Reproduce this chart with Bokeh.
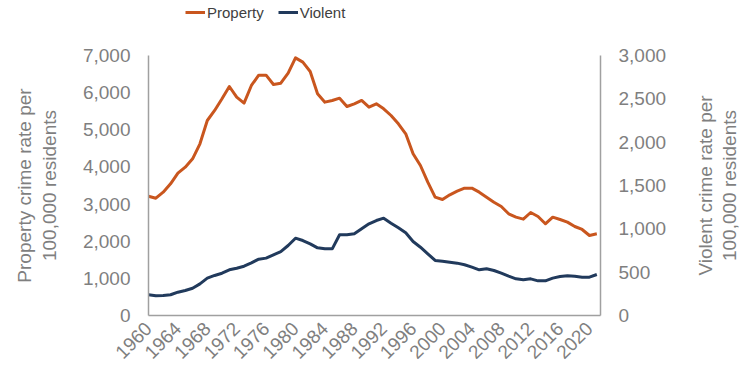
from bokeh.plotting import figure
from bokeh.models import (Range1d, LinearAxis, FixedTicker, NumeralTickFormatter,
                          Legend, LegendItem, Label)
from bokeh.layouts import column, row
from bokeh.embed import file_html
from bokeh.resources import INLINE
import math

years = list(range(1960, 2022))

property_rate = [3212, 3158, 3320, 3545, 3832, 3993, 4218, 4622, 5250, 5520,
                 5834, 6166, 5878, 5717, 6193, 6470, 6470, 6220, 6255, 6524,
                 6937, 6821, 6570, 5969, 5744, 5789, 5851, 5627, 5699, 5789,
                 5609, 5699, 5565, 5385, 5161, 4892, 4354, 4039, 3590, 3186,
                 3123, 3250, 3347, 3428, 3428, 3320, 3186, 3051, 2935, 2738,
                 2648, 2594, 2773, 2666, 2469, 2648, 2585, 2513, 2396, 2316,
                 2154, 2200]

violent_rate = [239, 227, 231, 239, 269, 288, 315, 365, 431, 462,
                488, 527, 546, 569, 608, 650, 662, 700, 738, 808,
                892, 865, 827, 781, 769, 769, 931, 931, 942, 1000,
                1058, 1096, 1123, 1065, 1012, 954, 854, 788, 712, 635,
                627, 615, 604, 585, 558, 527, 539, 519, 488, 454,
                423, 412, 423, 400, 400, 431, 450, 458, 454, 442,
                442, 473]

series_names = ["Property", "Violent"]
left_ticks = [0, 1000, 2000, 3000, 4000, 5000, 6000, 7000]
right_ticks = [0, 500, 1000, 1500, 2000, 2500, 3000]
x_ticks = list(range(1960, 2021, 4))
left_title = "Property crime rate per\n100,000 residents"
right_title_lines = ["Violent crime rate per", "100,000 residents"]

PROP_COLOR = "#C9561E"
VIOL_COLOR = "#213A5C"
AXIS_COLOR = "#A0A0A0"
TEXT_COLOR = "#7F7F7F"
FONT = "Liberation Sans"


def blank(fig):
    fig.outline_line_color = None
    fig.background_fill_color = "white"
    fig.border_fill_color = "white"
    fig.min_border = 0
    fig.xgrid.visible = False
    fig.ygrid.visible = False


# ---------------- legend strip (top) ----------------
leg_fig = figure(width=748, height=30, output_backend="svg", toolbar_location=None,
                 x_axis_type=None, y_axis_type=None,
                 x_range=Range1d(0, 1), y_range=Range1d(0, 1))
blank(leg_fig)
# series drawn here only to feed the legend swatches (they fall outside this strip's ranges)
lr1 = leg_fig.line(years, property_rate, line_color=PROP_COLOR, line_width=3)
lr2 = leg_fig.line(years, violent_rate, line_color=VIOL_COLOR, line_width=3)
legend = Legend(items=[LegendItem(label=series_names[0], renderers=[lr1]),
                       LegendItem(label=series_names[1], renderers=[lr2])],
                orientation="horizontal", location=(185, 8),
                glyph_width=20, glyph_height=20, label_height=20,
                label_standoff=2, spacing=14, padding=0, margin=0,
                border_line_color=None, background_fill_alpha=0,
                label_text_font=FONT, label_text_font_size="15px",
                label_text_color="#404040")
leg_fig.add_layout(legend, "center")

# ---------------- main chart ----------------
p = figure(width=690, height=342, output_backend="svg", toolbar_location=None,
           x_range=Range1d(1960, 2021.5), y_range=Range1d(0, 7000))
blank(p)
p.min_border_left = 148
p.min_border_right = 90
p.min_border_top = 25
p.min_border_bottom = 57
p.extra_y_ranges = {"violent": Range1d(0, 3000)}

p.line(years, property_rate, line_color=PROP_COLOR, line_width=3, line_join="round")
p.line(years, violent_rate, line_color=VIOL_COLOR, line_width=3, line_join="round",
       y_range_name="violent")


def style_axis(ax):
    ax.axis_line_color = AXIS_COLOR
    ax.axis_line_width = 1.5
    ax.major_tick_line_color = None
    ax.minor_tick_line_color = None
    ax.major_label_text_color = TEXT_COLOR
    ax.major_label_text_font = FONT
    ax.major_label_text_font_size = "19px"
    ax.major_label_standoff = 12
    ax.axis_label_text_color = TEXT_COLOR
    ax.axis_label_text_font = FONT
    ax.axis_label_text_font_size = "19px"
    ax.axis_label_text_font_style = "normal"
    ax.axis_label_standoff = 20


xa = p.xaxis[0]
style_axis(xa)
xa.ticker = FixedTicker(ticks=x_ticks)
xa.major_label_orientation = math.pi / 4
xa.major_label_standoff = 4

ya = p.yaxis[0]
style_axis(ya)
ya.ticker = FixedTicker(ticks=left_ticks)
ya.formatter = NumeralTickFormatter(format="0,0")
ya.axis_label = left_title

yr = LinearAxis(y_range_name="violent")
style_axis(yr)
yr.ticker = FixedTicker(ticks=right_ticks)
yr.formatter = NumeralTickFormatter(format="0,0")
p.add_layout(yr, "right")

# ---------------- right axis title strip ----------------
rt_fig = figure(width=58, height=342, output_backend="svg", toolbar_location=None,
                x_axis_type=None, y_axis_type=None,
                x_range=Range1d(0, 1), y_range=Range1d(0, 1))
blank(rt_fig)
rt_fig.min_border_top = 25
rt_fig.min_border_bottom = 57
for i, txt in enumerate(right_title_lines):
    rt_fig.add_layout(Label(x=15 + 24 * i, y=0.5, x_units="screen", y_units="data",
                            text=txt, angle=math.pi / 2,
                            text_align="center", text_baseline="middle",
                            text_font=FONT, text_font_size="19px",
                            text_color=TEXT_COLOR))

layout = column(leg_fig, row(p, rt_fig, spacing=0), spacing=0)

open("out.html", "w").write(file_html(layout, INLINE))
